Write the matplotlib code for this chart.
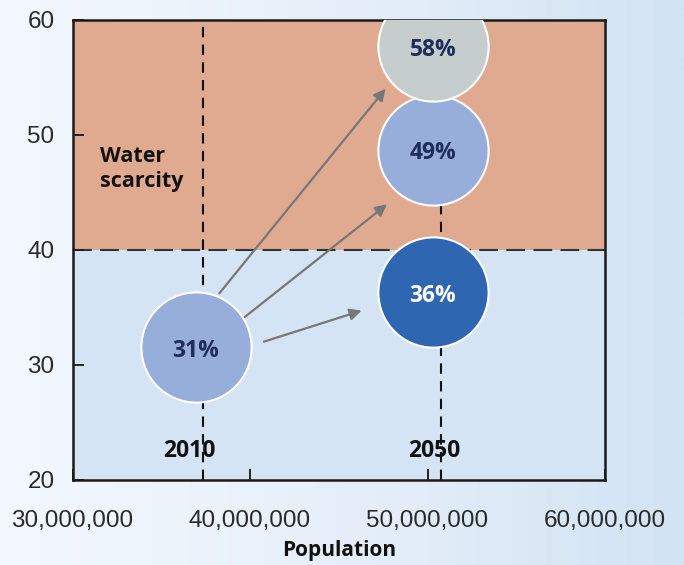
import numpy as np
import matplotlib
matplotlib.use("Agg")
import matplotlib.pyplot as plt
from matplotlib.colors import LinearSegmentedColormap

# ---- data ----
labels = ["31%", "36%", "49%", "58%"]
population = [36.95e6, 50.3e6, 50.3e6, 50.3e6]
y_values = [31.5, 36.3, 48.7, 57.7]
bubble_colors = ["#97AEDA", "#2E66B1", "#97AEDA", "#C6CECD"]
text_colors = ["#1F2D5C", "#FFFFFF", "#1F2D5C", "#1F2D5C"]

years = ["2010", "2050"]
year_line_x = [37.35e6, 50.75e6]
year_label_x = [36.6e6, 50.4e6]

threshold = 40
x_ticks = [30e6, 40e6, 50e6, 60e6]
x_tick_labels = ["30,000,000", "40,000,000", "50,000,000", "60,000,000"]
y_ticks = [20, 30, 40, 50, 60]

# arrows: (x_start, y_start, x_end, y_end)
arrow_x0 = [38.27e6, 39.71e6, 40.78e6]
arrow_y0 = [36.2, 34.15, 32.0]
arrow_x1 = [47.64e6, 47.72e6, 46.29e6]
arrow_y1 = [54.0, 43.95, 34.7]

W, H = 684, 565
fig = plt.figure(figsize=(W / 100, H / 100), dpi=100)

# gradient background
bg = fig.add_axes([0, 0, 1, 1], zorder=-10)
cmap = LinearSegmentedColormap.from_list("bg", ["#F3F8FE", "#E6EFF9", "#D2E3F4"])
grad = np.linspace(0, 1, 256).reshape(1, -1)
bg.imshow(grad, aspect="auto", cmap=cmap, extent=[0, 1, 0, 1])
bg.set_axis_off()

ax = fig.add_axes([72.5 / W, 1 - 479.6 / H, (605.0 - 72.5) / W, (479.6 - 19.8) / H])
ax.set_facecolor("none")
ax.set_xlim(30e6, 60e6)
ax.set_ylim(20, 60)

ax.axhspan(threshold, 60, color="#E0AA90", zorder=0, lw=0)
ax.axhspan(20, threshold, color="#D4E4F5", zorder=0, lw=0)

ax.axhline(threshold, color="#333333", lw=1.5, ls=(0, (9, 4)), zorder=1)
for xv in year_line_x:
    ax.axvline(xv, color="#111111", lw=1.5, ls=(0, (5, 3.5)), zorder=1)

for xv, yv, c in zip(population, y_values, bubble_colors):
    ax.scatter([xv], [yv], s=6300, color=c, edgecolor="white", linewidth=1.5, zorder=3, clip_on=True)

for xv, yv, lab, tc in zip(population, y_values, labels, text_colors):
    ax.text(xv, yv - 0.3, lab, ha="center", va="center", color=tc,
            fontsize=16.5, fontweight="bold", family="Open Sans", zorder=5)

for x0, y0, x1, y1 in zip(arrow_x0, arrow_y0, arrow_x1, arrow_y1):
    ax.annotate("", xy=(x1, y1), xytext=(x0, y0),
                arrowprops=dict(arrowstyle="-|>,head_length=0.7,head_width=0.35",
                                color="#777777", lw=1.6, shrinkA=0, shrinkB=0),
                zorder=4)

for xl, yr in zip(year_label_x, years):
    ax.text(xl, 22.45, yr, ha="center", va="center", fontsize=16.5,
            fontweight="bold", family="Open Sans", color="#111111", zorder=5)

ax.text(31.55e6, 47.0, "Water\nscarcity", ha="left", va="center", fontsize=15.5,
        fontweight="bold", family="Open Sans", color="#111111", linespacing=1.25, zorder=5)

ax.set_xticks(x_ticks)
ax.set_xticklabels(x_tick_labels)
ax.set_yticks(y_ticks)
ax.tick_params(axis="both", direction="in", length=8, width=1.4, color="#222222",
               labelsize=17.5, labelcolor="#2A2A2A")
ax.tick_params(axis="x", pad=22)
ax.tick_params(axis="y", pad=13)
for lab in ax.get_xticklabels() + ax.get_yticklabels():
    lab.set_family("Liberation Sans")

for sp in ax.spines.values():
    sp.set_color("#1A1A1A")
    sp.set_linewidth(1.8)
    sp.set_zorder(2)

ax.set_xlabel("Population", fontsize=15, fontweight="bold", family="Open Sans",
              color="#111111", labelpad=6)

fig.savefig("out.png", dpi=100)
